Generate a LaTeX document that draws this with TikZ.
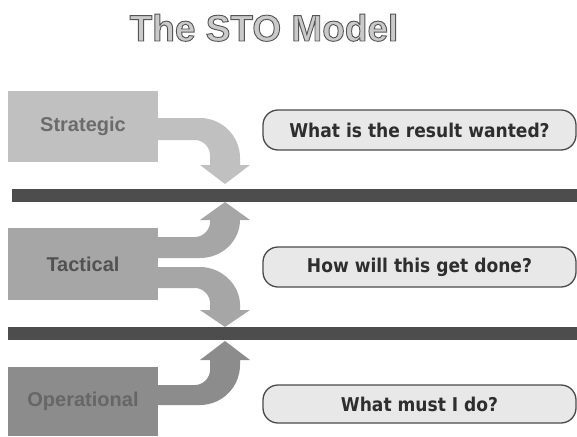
\documentclass[tikz,border=0pt]{standalone}
\usepackage{fontspec}
\setmainfont{Liberation Sans}
\newfontfamily\pillfont{DejaVu Sans Condensed}
\newfontfamily\titlefont{Liberation Sans}[BoldFeatures={FakeBold=2.5}]
\definecolor{lvlA}{HTML}{C0C0C0}
\definecolor{lvlB}{HTML}{A6A6A6}
\definecolor{lvlC}{HTML}{8C8C8C}
\definecolor{barc}{HTML}{4D4D4D}
\definecolor{pillfill}{HTML}{E8E8E8}
\definecolor{pillline}{HTML}{4A4A4A}
\definecolor{pilltext}{HTML}{2E2E2E}
\definecolor{titlefill}{HTML}{CACACA}
\tikzset{
  levelbox/.style={inner sep=0pt, minimum width=150pt, font=\fontsize{20}{24}\selectfont\bfseries},
  pillbox/.style={draw=pillline, line width=1.3pt, fill=pillfill, rounded corners=15pt,
    minimum width=313pt, inner sep=0pt, text=pilltext,
    font=\pillfont\bfseries\fontsize{19}{23}\selectfont},
  barline/.style={fill=barc, draw=none},
}
\begin{document}
\begin{tikzpicture}[x=1pt,y=-1pt]
\useasboundingbox (0,0) rectangle (577,436);
% title
\node[anchor=base, font=\titlefont\bfseries\fontsize{37}{44}\selectfont, inner sep=0pt] (title) at (264,41)
  {\color{titlefill}\special{pdf:code 0.333 0.333 0.333 RG}The STO Model};
% level boxes
\node[levelbox, fill=lvlA, minimum height=71pt, text=black!58] (strat) at (83,126.5) {Strategic};
\node[levelbox, fill=lvlB, minimum height=72pt, text=black!68] (tact) at (83,264) {Tactical};
\node[levelbox, fill=lvlC, minimum height=69pt, text=black!60] (oper) at (83,401.5) {Operational};
% arrows
\fill[lvlA] (150,118) -- (200,118) .. controls (222,118) and (240,136) .. (240,158) -- (240,165)
  -- (250,165) -- (225,184) -- (200,165) -- (210,165) -- (210,155)
  .. controls (210,147) and (203,140) .. (195,140) -- (150,140) -- cycle;
\fill[lvlB] (150,237) -- (195,237) .. controls (203,237) and (210,230) .. (210,222) -- (210,220)
  -- (200,220) -- (225,202) -- (250,220) -- (240,220)
  .. controls (240,241) and (222,258) .. (200,258) -- (150,258) -- cycle;
\fill[lvlB] (150,267) -- (200,267) .. controls (222,267) and (240,285) .. (240,305) -- (240,310)
  -- (250,310) -- (225,327) -- (200,310) -- (210,310) -- (210,303)
  .. controls (210,295) and (203,288) .. (195,288) -- (150,288) -- cycle;
\fill[lvlC] (150,385) -- (195,385) .. controls (203,385) and (210,378) .. (210,370) -- (210,360)
  -- (200,360) -- (225,341) -- (250,360) -- (240,360) -- (240,365)
  .. controls (240,387) and (222,405) .. (200,405) -- (150,405) -- cycle;
% bars
\fill[barline] (12,189) rectangle (577,202);
\fill[barline] (8,327) rectangle (577,340);
% pills
\node[pillbox, minimum height=40pt] (q1) at (419.5,130) {What is the result wanted?};
\node[pillbox, minimum height=40pt] (q2) at (419.5,267) {How will this get done?};
\node[pillbox, minimum height=38pt] (q3) at (419.5,404) {What must I do?};
\end{tikzpicture}
\end{document}
